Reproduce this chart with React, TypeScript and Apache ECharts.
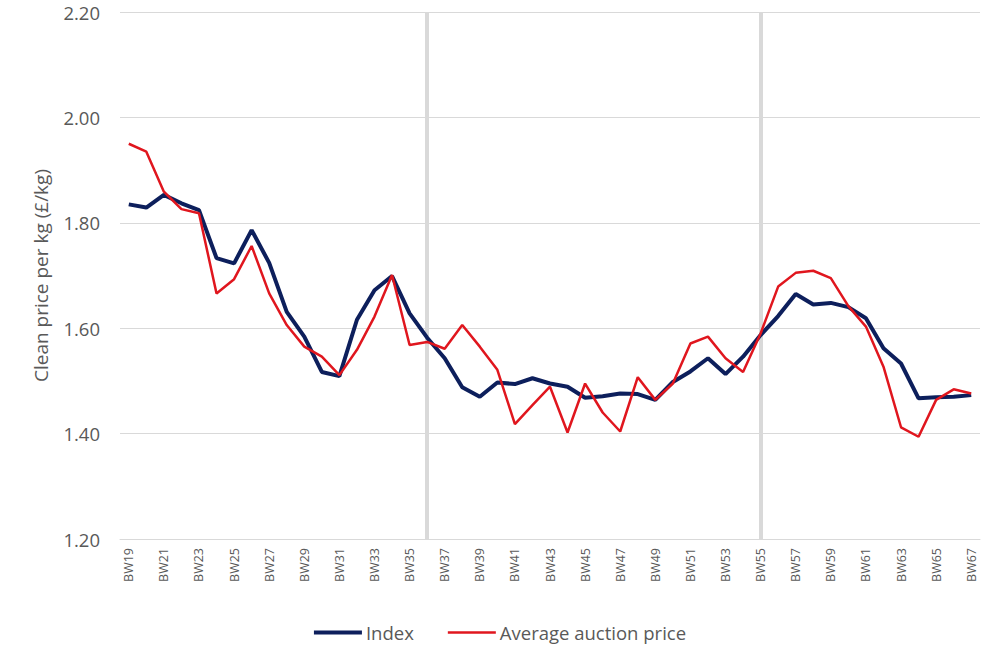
import React, { useEffect, useRef } from "react";
import * as echarts from "echarts";

const weeks: string[] = [];
for (let w = 19; w <= 67; w++) weeks.push("BW" + w);

const indexValues = [
  1.835, 1.829, 1.853, 1.837, 1.824, 1.733, 1.723, 1.786, 1.724, 1.631,
  1.584, 1.517, 1.509, 1.616, 1.672, 1.699, 1.628, 1.582, 1.543, 1.488,
  1.470, 1.497, 1.494, 1.505, 1.495, 1.489, 1.468, 1.471, 1.476, 1.475,
  1.464, 1.498, 1.518, 1.543, 1.513, 1.546, 1.587, 1.623, 1.665, 1.645,
  1.648, 1.640, 1.619, 1.562, 1.533, 1.467, 1.469, 1.470, 1.473,
];

const auctionValues = [
  1.950, 1.935, 1.859, 1.826, 1.818, 1.666, 1.693, 1.756, 1.666, 1.606,
  1.565, 1.546, 1.511, 1.559, 1.622, 1.701, 1.568, 1.574, 1.561, 1.606,
  1.565, 1.521, 1.418, 1.454, 1.489, 1.402, 1.495, 1.440, 1.404, 1.507,
  1.464, 1.495, 1.571, 1.584, 1.543, 1.517, 1.590, 1.679, 1.705, 1.709,
  1.695, 1.642, 1.603, 1.527, 1.412, 1.394, 1.464, 1.484, 1.476,
];

const dividerWeeks = ["BW36", "BW55"];
const yTicks = { min: 1.2, max: 2.2, interval: 0.2 };

const NAVY = "#0d1f5c";
const RED = "#e0161e";

export default function App() {
  const ref = useRef<HTMLDivElement>(null);
  useEffect(() => {
    if (!ref.current) return;
    const chart = echarts.init(ref.current, undefined, { renderer: "svg" });
    const font = "'Open Sans', 'Noto Sans', sans-serif";
    chart.setOption({
      animation: false,
      textStyle: { fontFamily: font },
      grid: { left: 120, right: 20, top: 12, bottom: 124 },
      legend: {
        bottom: 16,
        left: "center",
        itemWidth: 48,
        itemHeight: 12,
        itemGap: 34,
        textStyle: { fontSize: 18.5, color: "#595959", fontFamily: font, padding: [0, 0, 0, -1] },
        data: [
          { name: "Index", icon: "path://M0 0H48V4H0Z", itemStyle: { color: NAVY } },
          { name: "Average auction price", icon: "path://M0 0H48V2.5H0Z", itemStyle: { color: RED } },
        ],
      },
      xAxis: {
        type: "category",
        data: weeks,
        boundaryGap: true,
        axisLine: { lineStyle: { color: "#d9d9d9", width: 1 } },
        axisTick: { show: false },
        axisLabel: {
          rotate: 90,
          interval: 1,
          fontSize: 12.5,
          color: "#595959",
          margin: 9,
        },
        splitLine: { show: false },
      },
      yAxis: {
        type: "value",
        min: yTicks.min,
        max: yTicks.max,
        interval: yTicks.interval,
        name: "Clean price per kg (£/kg)",
        nameLocation: "middle",
        nameGap: 70,
        nameTextStyle: { fontSize: 19, color: "#595959" },
        axisLine: { show: false },
        axisTick: { show: false },
        axisLabel: {
          fontSize: 18.5,
          color: "#595959",
          margin: 20,
          formatter: (v: number) => v.toFixed(2),
        },
        splitLine: { lineStyle: { color: "#d9d9d9", width: 1 } },
      },
      series: [
        {
          name: "Index",
          type: "line",
          data: indexValues,
          symbol: "none",
          lineStyle: { color: NAVY, width: 4 },
          itemStyle: { color: NAVY },
          z: 3,
          markLine: {
            silent: true,
            symbol: "none",
            label: { show: false },
            lineStyle: { color: "#d9d9d9", width: 4, type: "solid" },
            data: dividerWeeks.map((w) => ({ xAxis: w })),
            z: 1,
          },
        },
        {
          name: "Average auction price",
          type: "line",
          data: auctionValues,
          symbol: "none",
          lineStyle: { color: RED, width: 2.5 },
          itemStyle: { color: RED },
          z: 4,
        },
      ],
    });
    return () => chart.dispose();
  }, []);
  return <div ref={ref} style={{ width: 1000, height: 663, position: "absolute", left: 0, top: 0 }} />;
}
